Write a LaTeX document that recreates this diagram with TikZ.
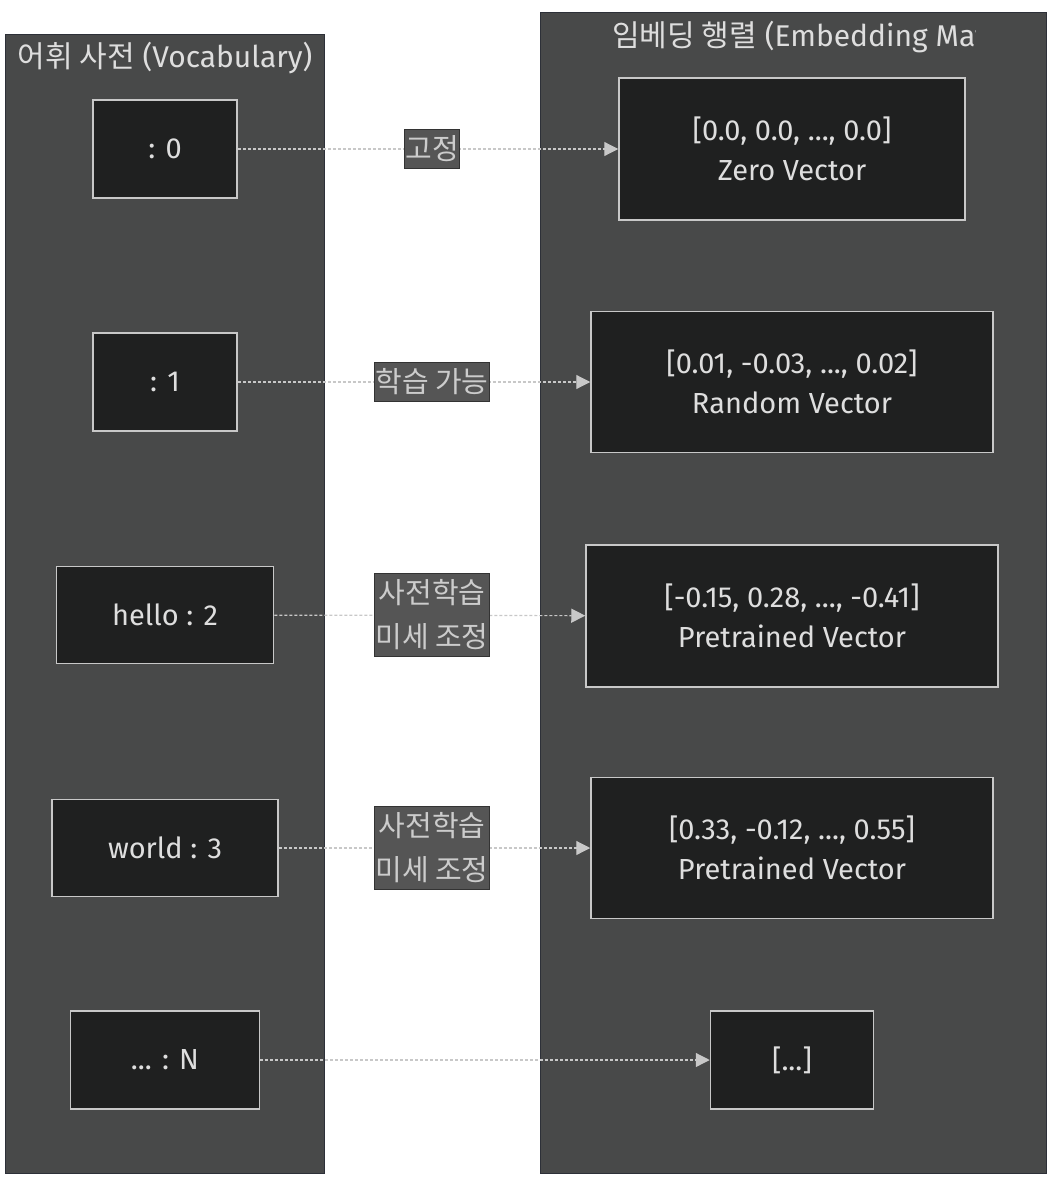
\documentclass[tikz,border=0pt]{standalone}
\usepackage{fontspec}
\setmainfont{Fira Sans}
\newfontfamily\kr{Noto Sans CJK KR}
\usetikzlibrary{positioning,arrows.meta}

\definecolor{clusterfill}{RGB}{72,73,73}
\definecolor{clusterline}{RGB}{45,48,56}
\definecolor{boxfill}{RGB}{31,32,32}
\definecolor{boxline}{RGB}{200,200,200}
\definecolor{txt}{RGB}{222,222,222}
\definecolor{tagfill}{RGB}{85,85,85}
\definecolor{tagtxt}{RGB}{204,204,204}
\definecolor{linkcol}{RGB}{200,200,200}

\tikzset{
  cluster/.style={draw=clusterline, fill=clusterfill, line width=1pt},
  grouptitle/.style={text=txt, inner sep=0pt, font=\fontsize{30}{36}\selectfont},
  entry/.style={draw=boxline, fill=boxfill, text=txt, line width=1.5pt, inner sep=0pt, align=center, font=\fontsize{29}{40}\selectfont},
  tag/.style={draw=black!80, fill=tagfill, text=tagtxt, line width=0.8pt, inner xsep=1pt, inner ysep=6pt, align=center, font=\kr\fontsize{29}{44}\selectfont},
  link/.style={draw=linkcol, line width=1.2pt, dash pattern=on 3pt off 2pt, -{Triangle[length=14pt,width=14pt]}}
}

\begin{document}
\begin{tikzpicture}[x=1pt,y=-1pt]
\useasboundingbox (0,0) rectangle (1051,1188);

\draw[cluster] (5,35) rectangle (324,1173);
\draw[cluster] (540,13) rectangle (1046,1173);

\node[grouptitle] (voctitle) at (165,58) {{\kr 어휘 사전} (Vocabulary)};
\begin{scope}
\clip (540,13) rectangle (975,100);
\node[grouptitle, anchor=west] (embtitle) at (612,37) {{\kr 임베딩 행렬} (Embedding Mat};
\end{scope}

\node[entry, minimum width=144, minimum height=98] (v0) at (165,149) {: 0};
\node[entry, minimum width=144, minimum height=98] (v1) at (165,382) {: 1};
\node[entry, minimum width=217, minimum height=97] (v2) at (165,615) {hello : 2};
\node[entry, minimum width=226, minimum height=97] (v3) at (165,848) {world : 3};
\node[entry, minimum width=189, minimum height=98] (vn) at (165,1060) {... : N};

\node[entry, minimum width=346, minimum height=142] (e0) at (792,149) {[0.0, 0.0, ..., 0.0]\\Zero Vector};
\node[entry, minimum width=402, minimum height=141] (e1) at (792,382) {[0.01, -0.03, ..., 0.02]\\Random Vector};
\node[entry, minimum width=412, minimum height=142] (e2) at (792,616) {[-0.15, 0.28, ..., -0.41]\\Pretrained Vector};
\node[entry, minimum width=402, minimum height=141] (e3) at (792,848) {[0.33, -0.12, ..., 0.55]\\Pretrained Vector};
\node[entry, minimum width=163, minimum height=98] (en) at (792,1060) {[...]};

\draw[link] (v0) -- (e0);
\draw[link] (v1) -- (e1);
\draw[link] (v2) -- (e2);
\draw[link] (v3) -- (e3);
\draw[link] (vn) -- (en);

\node[tag] (t0) at (432,149) {고정};
\node[tag] (t1) at (432,382) {학습 가능};
\node[tag] (t2) at (432,615) {사전학습\\미세 조정};
\node[tag] (t3) at (432,848) {사전학습\\미세 조정};

\end{tikzpicture}
\end{document}
